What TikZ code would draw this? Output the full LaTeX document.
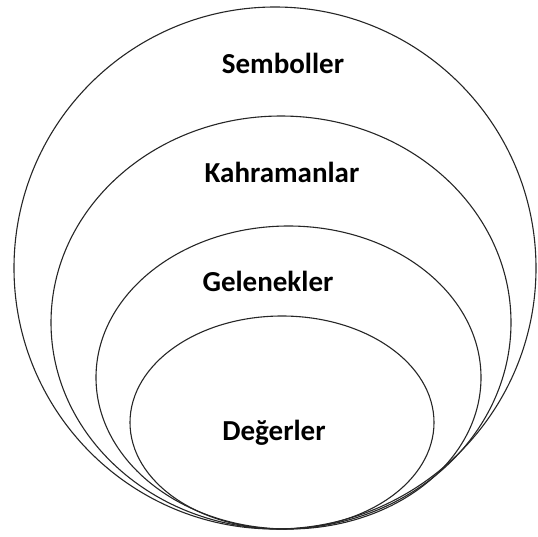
\documentclass[tikz,border=0pt]{standalone}
\usepackage{fontspec}
\setmainfont{Carlito}

\tikzset{
  ring/.style={draw=black!85, line width=1.1pt},
  layer/.style={font=\bfseries\fontsize{29}{32}\selectfont, inner sep=0pt, anchor=base}
}

\begin{document}
\begin{tikzpicture}[x=1pt, y=-1pt]
  \useasboundingbox (0,0) rectangle (538,536);

  % Draw rings, outer to inner, all meeting at the bottom
  \draw[ring] (275, 268) ellipse [x radius=261, y radius=261];
  \draw[ring] (281, 322.5) ellipse [x radius=230, y radius=206.5];
  \draw[ring] (288.5, 377.5) ellipse [x radius=192.5, y radius=151.5];
  \draw[ring] (282, 422.5) ellipse [x radius=152, y radius=106.5];

  \node[layer] (semboller) at (283, 73) {Semboller};
  \node[layer] (kahramanlar) at (282, 182) {Kahramanlar};
  \node[layer] (gelenekler) at (268, 291) {Gelenekler};
  \node[layer] (degerler) at (274, 440) {Değerler};
\end{tikzpicture}
\end{document}
